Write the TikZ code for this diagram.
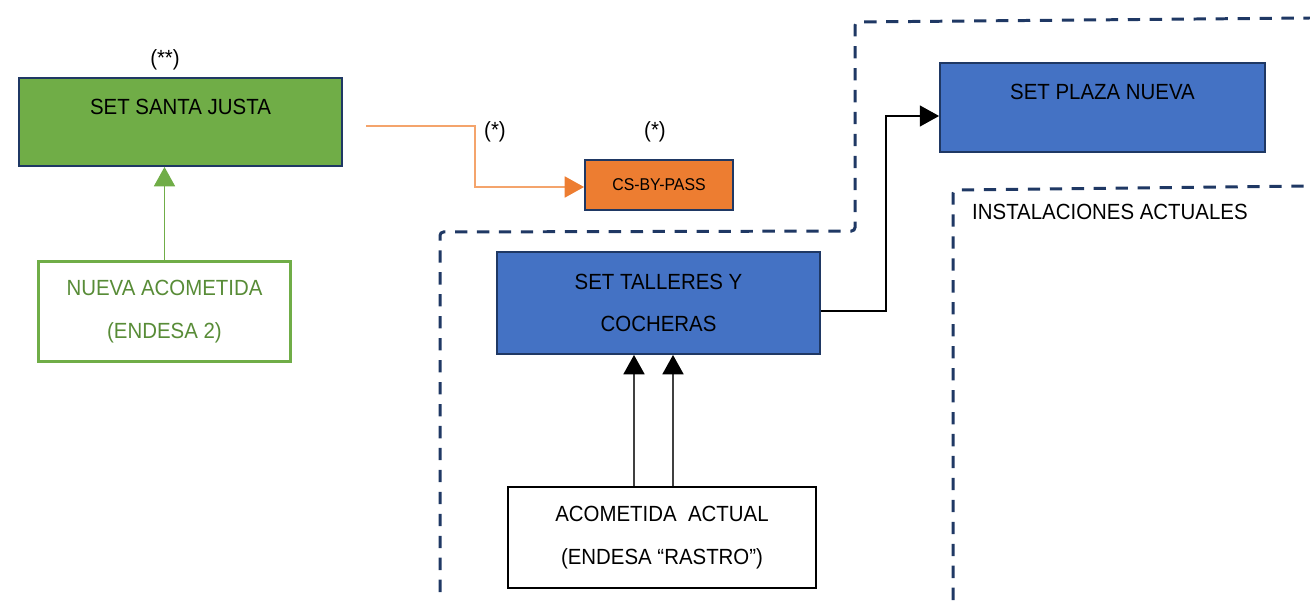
\documentclass[tikz,border=0pt]{standalone}
\usepackage{fontspec}
\setmainfont[FakeStretch=0.93]{Liberation Sans}
\usetikzlibrary{arrows.meta,calc}
\definecolor{navy}{HTML}{1F3864}
\definecolor{setgreen}{HTML}{70AD47}
\definecolor{textgreen}{RGB}{88,140,55}
\definecolor{setblue}{HTML}{4472C4}
\definecolor{setorange}{HTML}{ED7D31}
\definecolor{lineorange}{RGB}{244,164,108}
\begin{document}
\begin{tikzpicture}[x=0.02cm,y=-0.02cm,
  font=\fontsize{12.5pt}{24.4pt}\selectfont,
  box/.style={draw=navy, line width=1.1pt, inner sep=0pt, align=center},
  greenbox/.style={box, fill=setgreen},
  bluebox/.style={box, fill=setblue},
  orangebox/.style={box, fill=setorange, font=\fontsize{9.7pt}{12pt}\selectfont},
  topline/.style={align=none, text height=9pt, text depth=18pt},
  feedbox/.style={draw=setgreen, line width=1.7pt, fill=white, inner sep=0pt, align=center, text=textgreen},
  plainbox/.style={draw=black, line width=1.4pt, fill=white, inner sep=0pt, align=center},
  tip/.style={-{Triangle[width=12pt,length=11pt,#1]}},
  tip/.default={},
  region/.style={draw=navy, line width=1.7pt, dash pattern=on 7pt off 5.5pt, rounded corners=2pt}
]
\useasboundingbox (0,0) rectangle (1310,601);

% dashed region outlines
\draw[region] (440,592) -- (440,232) -- (855,231) -- (855,22) -- (1310,18);
\draw[region] (953,600) -- (953,190) -- (1310,186);

% substations and feeders
\node[greenbox, topline, minimum width=6.46cm, minimum height=1.76cm] (santa) at (180.5,122) {SET SANTA JUSTA};
\node[orangebox, minimum width=2.96cm, minimum height=1.0cm] (cs) at (659,185) {CS-BY-PASS};
\node[feedbox, minimum width=5.06cm, minimum height=2.02cm] (nueva) at (164.5,311.5) {NUEVA ACOMETIDA\\(ENDESA 2)};
\node[bluebox, topline, minimum width=6.5cm, minimum height=1.78cm] (plaza) at (1102.5,107.5) {SET PLAZA NUEVA};
\node[bluebox, minimum width=6.46cm, minimum height=2.04cm] (talleres) at (658.5,303) {SET TALLERES Y\\COCHERAS};
\node[plainbox, minimum width=6.16cm, minimum height=2.02cm] (acom) at (662,537.5) {ACOMETIDA\ \ ACTUAL\\(ENDESA “RASTRO”)};

% notes
\node (n2) at (165,60) {(**)};
\node (n1a) at (495,132) {(*)};
\node (n1b) at (655,132) {(*)};
\node[anchor=west] (inst) at (966,212) {INSTALACIONES ACTUALES};

% connectors
\draw[tip={color=setgreen}, draw=setgreen, line width=0.7pt] (nueva.north) -- (santa.south -| nueva.north);

\coordinate (o0) at (366,126);
\coordinate (o1) at (475,126);
\draw[tip={color=setorange}, draw=lineorange, line width=0.8pt] (o0) -- (o1) |- ($(cs.west)+(0,2)$);

\coordinate (b1) at (886,311);
\coordinate (b2) at (886,116);
\draw[tip={color=black}, line width=0.7pt] (talleres.east |- b1) -- (b1) -- (b2) -- (plaza.west |- b2);

\coordinate (u1) at (634,0);
\coordinate (u2) at (673,0);
\draw[tip={color=black}, draw=black!75, line width=0.8pt] (acom.north -| u1) -- (talleres.south -| u1);
\draw[tip={color=black}, draw=black!75, line width=0.8pt] (acom.north -| u2) -- (talleres.south -| u2);
\end{tikzpicture}
\end{document}
